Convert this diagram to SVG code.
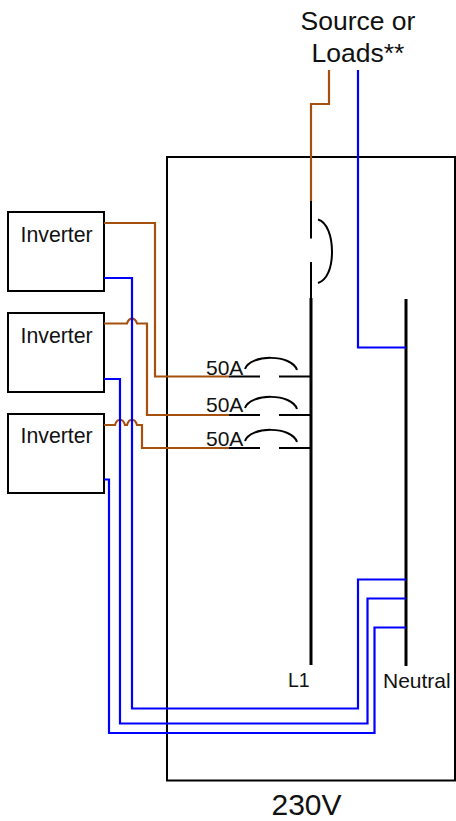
<svg xmlns="http://www.w3.org/2000/svg" width="456" height="821" viewBox="0 0 456 821">
<style>
text{font-family:"Liberation Sans",Arial,sans-serif;fill:#111}
.box{fill:#fff;stroke:#000;stroke-width:2}
.w{fill:none;stroke-width:2.200}
.b{stroke:#a5500f}
.n{stroke:#0000ff}
.k{fill:none;stroke:#000;stroke-width:2}
.bus{fill:none;stroke:#000;stroke-width:3}
.inv{font-size:21.300px}
.br{font-size:21px}
</style>
<rect width="456" height="821" fill="#fff"/>
<g id="panel"><rect class="box" x="167" y="157" width="288" height="623.500"/></g>
<g id="inverter1"><rect class="box" x="8" y="212" width="96" height="79"/><text class="inv" x="20.500" y="242">Inverter</text></g>
<g id="inverter2"><rect class="box" x="8" y="313" width="96" height="79"/><text class="inv" x="20.500" y="343">Inverter</text></g>
<g id="inverter3"><rect class="box" x="8" y="414" width="96" height="79"/><text class="inv" x="20.500" y="443">Inverter</text></g>
<g id="main-breaker">
<path class="k" d="M311 201V238.500M311 262V298"/>
<path class="k" d="M318 219.500C327 222 332 236 332 252C332 268 327 280 318 283"/>
</g>
<g id="l1-bus"><path class="bus" d="M311 298V665"/><text x="288" y="687" font-size="19.500">L1</text></g>
<g id="neutral-bus"><path class="bus" d="M406 299V666"/><text x="383" y="688" font-size="21">Neutral</text></g>
<g id="breaker1">
<path class="k" d="M229 376.500H260M279 376.500H311"/>
<path class="k" d="M245 369C250 354 292 354 297 370"/>
<text class="br" x="206" y="375">50A</text>
</g>
<g id="breaker2">
<path class="k" d="M229 415H260M279 415H311"/>
<path class="k" d="M245 408C250 393 292 393 297 409"/>
<text class="br" x="206" y="412">50A</text>
</g>
<g id="breaker3">
<path class="k" d="M229 448H260M279 448H311"/>
<path class="k" d="M245 441C250 426 292 426 297 442"/>
<text class="br" x="206" y="446">50A</text>
</g>
<g id="connectors">
<path class="w b" d="M329 70V104H311V201"/>
<path class="w n" d="M358 70V347.500H406"/>
<path class="w b" d="M104 223H155V376.500H229"/>
<path class="w b" d="M104 323.500H127C129 317 135 317 137 323.500H147V415H229"/>
<path class="w b" d="M104 425H115C117 418 123 418 125 425H127C129 418 135 418 137 425H142V448H229"/>
<path class="w n" d="M104 278H132V708.500H358V579.500H406"/>
<path class="w n" d="M104 379H120V723.500H367.500V598.500H406"/>
<path class="w n" d="M104 479.500H109V733H374.500V627.500H406"/>
</g>
<g id="labels">
<text x="358" y="30" font-size="26.500" text-anchor="middle">Source or</text>
<text x="358" y="62" font-size="26.500" text-anchor="middle">Loads**</text>
<text x="306.500" y="814.500" font-size="30" text-anchor="middle">230V</text>
</g>
</svg>
